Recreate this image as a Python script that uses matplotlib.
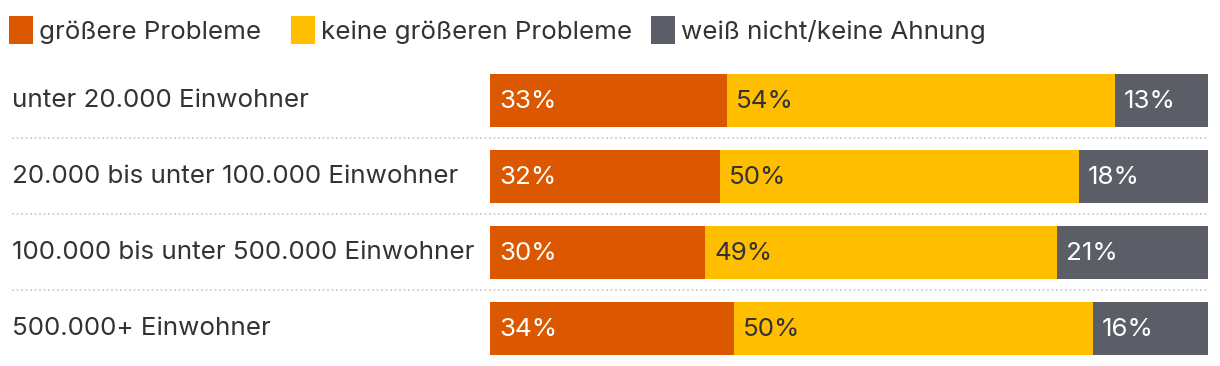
import matplotlib
matplotlib.use("Agg")
import matplotlib.pyplot as plt
import matplotlib.transforms as mtransforms
from matplotlib.patches import Rectangle
import numpy as np

plt.rcParams['font.family'] = ['Inter', 'DejaVu Sans']

categories = ["unter 20.000 Einwohner",
              "20.000 bis unter 100.000 Einwohner",
              "100.000 bis unter 500.000 Einwohner",
              "500.000+ Einwohner"]
series_names = ["größere Probleme", "keine größeren Probleme", "weiß nicht/keine Ahnung"]
groessere = [33, 32, 30, 34]
keine = [54, 50, 49, 50]
weiss = [13, 18, 21, 16]
colors = ["#DB5800", "#FFBF00", "#5B5E66"]
text_colors = ["white", "#333333", "white"]

W, H = 1220, 366
fig = plt.figure(figsize=(W / 100, H / 100), dpi=100)
ax = fig.add_axes([490 / W, 0, 718 / W, 303.5 / H])
ax.set_xlim(0, 100)
ax.set_ylim(3.5, -0.5)
ax.axis('off')

y = np.arange(len(categories))
left = np.zeros(len(categories))
fs = 18.7
for vals, col, tcol in zip([groessere, keine, weiss], colors, text_colors):
    vals = np.array(vals, dtype=float)
    ax.barh(y, vals, left=left, height=53 / 76, color=col, linewidth=0)
    for yi, l, v in zip(y, left, vals):
        ax.annotate(f"{int(v)}%", xy=(l, yi), xytext=(6.5, -1), textcoords='offset points',
                    ha='left', va='center', color=tcol, fontsize=fs)
    left += vals

# category labels and separators
blend = mtransforms.blended_transform_factory(fig.transFigure, ax.transData)
for yi, cat in zip(y, categories):
    ax.annotate(cat, xy=(12 / W, yi), xycoords=blend, xytext=(0, 0), textcoords='offset points',
                ha='left', va='center', fontsize=fs, color='#333333')
for yi in y[:-1]:
    ax.plot([12 / W, 1208 / W], [yi + 0.5, yi + 0.5], transform=blend,
            color='#D0D0D0', linestyle=(0, (1.2, 1.5)), linewidth=1.2, clip_on=False)

# legend
leg_x = [9, 291, 651]
for x0, name, col in zip(leg_x, series_names, colors):
    fig.patches.append(Rectangle((x0 / W, (H - 44) / H), 24 / W, 28 / H,
                                 transform=fig.transFigure, color=col, linewidth=0))
    fig.text((x0 + 30) / W, (H - 32) / H, name, ha='left', va='center',
             fontsize=fs, color='#333333')

fig.savefig("out.png", dpi=100)
